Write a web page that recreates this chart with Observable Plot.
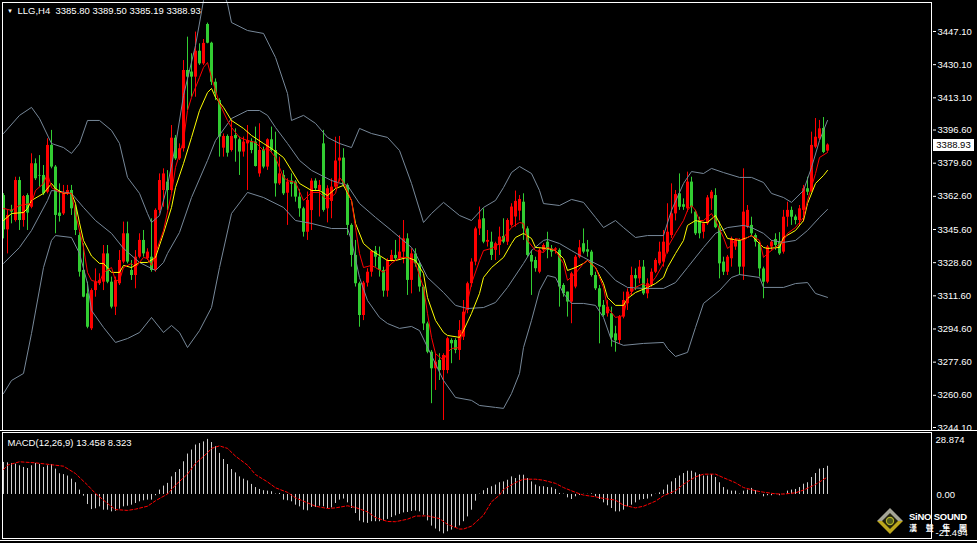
<!DOCTYPE html>
<html><head><meta charset="utf-8">
<script src="https://cdn.jsdelivr.net/npm/d3@7"></script>
<script src="https://cdn.jsdelivr.net/npm/@observablehq/plot@0.6"></script>
<style>
html,body{margin:0;padding:0;background:#000;}
#wrap{position:relative;width:977px;height:543px;background:#000;overflow:hidden;font-family:"Liberation Sans",Arial,sans-serif;}
#main,#macd{position:absolute;left:0;}
#main{top:0;z-index:2;} #macd{top:431px;z-index:1;}
#main svg,#macd svg{overflow:visible;}
.hline{position:absolute;left:0;width:977px;height:1px;background:#fff;z-index:1;}
#plabel{position:absolute;left:933px;width:41px;height:12px;background:#fff;color:#000;font-size:9.5px;line-height:12px;text-align:center;z-index:3;}
#logo{position:absolute;left:0;top:0;width:977px;height:543px;pointer-events:none;z-index:4;}
</style></head><body>
<div id="wrap"><div id="main"></div><div id="macd"></div>
<div class="hline" style="top:430px"></div>
<div class="hline" style="top:540px"></div>
<div id="plabel"></div>
<svg id="logo" width="977" height="543">
  <polygon points="877,521 890,508 903,521" fill="#a3a396"/>
  <polygon points="877,521 890,534 903,521" fill="#bda81c"/>
  <polygon points="882,521 890,513 898,521 890,529" fill="#23230c"/>
  <circle cx="890" cy="521" r="3.6" fill="#4d5a1c" stroke="#b4b428" stroke-width="1.2"/>
  <text x="909" y="520" fill="#fff" font-family="Liberation Sans, Arial, sans-serif" font-weight="bold" font-size="9.5" textLength="58">SiNO SOUND</text>
  <text x="909" y="530.5" fill="#fff" font-family="Noto Sans CJK TC, sans-serif" font-weight="bold" font-size="8" textLength="58">漢 聲 集 團</text>
</svg>
</div>
<script>
// ---------------- data ----------------
const symbol = "LLG,H4";
const yTicks = [3447.10,3430.10,3413.10,3396.60,3379.60,3362.60,3345.60,3328.60,3311.60,3294.60,3277.60,3260.60,3244.10];
const macdTicks = [28.874, 0, -21.494];

const open = [3363.0,3345.4,3355.5,3350.2,3370.7,3350.2,3363.0,3357.0,3379.3,3373.3,
3373.3,3364.7,3388.7,3377.6,3354.0,3353.6,3363.9,3365.6,3356.2,3342.5,
3324.6,3312.6,3294.7,3314.3,3317.8,3318.6,3333.1,3318.6,3305.8,3317.8,
3328.9,3343.4,3324.6,3322.0,3331.4,3340.0,3330.6,3331.4,3324.6,3355.4,
3365.6,3369.9,3365.6,3392.4,3381.8,3387.0,3427.1,3426.3,3423.7,3437.0,
3430.5,3450.7,3441.1,3421.1,3411.7,3387.3,3393.3,3386.1,3393.8,3391.6,
3385.3,3389.5,3390.7,3390.4,3374.1,3386.1,3377.6,3391.6,3386.1,3369.0,
3373.3,3364.2,3370.4,3369.9,3362.2,3356.2,3344.2,3355.3,3370.4,3365.6,
3389.5,3356.2,3360.0,3367.3,3380.7,3382.2,3368.2,3347.7,3332.3,3317.8,
3301.5,3318.1,3323.7,3334.5,3331.4,3324.6,3314.0,3329.7,3332.3,3330.6,
3334.0,3340.8,3319.5,3333.1,3328.0,3316.1,3297.2,3282.7,3274.2,3278.5,
3273.3,3273.3,3288.7,3288.7,3283.6,3290.4,3304.1,3317.8,3328.9,3345.9,
3351.1,3339.1,3339.1,3334.9,3337.4,3342.0,3339.1,3347.7,3352.0,3355.0,
3359.6,3345.9,3332.3,3329.7,3323.7,3334.9,3339.1,3335.7,3335.0,3334.9,
3316.9,3313.5,3308.4,3316.1,3331.4,3338.3,3335.2,3334.0,3322.0,3315.2,
3306.7,3302.4,3302.4,3292.1,3288.7,3300.7,3307.5,3313.5,3322.0,3320.3,
3326.3,3312.6,3317.0,3323.7,3328.0,3328.9,3334.0,3342.5,3353.6,3363.9,
3358.3,3356.2,3369.9,3354.5,3350.2,3344.2,3348.5,3361.3,3363.0,3346.5,
3328.9,3323.7,3330.6,3336.6,3340.0,3326.3,3346.8,3347.7,3342.5,3338.3,
3325.4,3318.6,3336.6,3340.5,3339.1,3334.0,3351.9,3355.4,3352.0,3350.2,
3355.4,3366.5,3365.6,3387.8,3392.1,3397.4,3385.80];

const high = [3364.0,3355.3,3358.0,3372.4,3372.4,3363.0,3363.9,3384.4,3381.8,3383.5,
3378.4,3392.1,3396.4,3378.4,3369.0,3368.2,3368.2,3368.2,3357.9,3344.2,
3338.3,3318.6,3315.2,3325.4,3322.9,3337.4,3337.4,3321.2,3321.2,3334.8,
3349.4,3349.4,3329.7,3334.8,3343.4,3345.1,3335.7,3351.1,3356.2,3374.1,
3376.7,3375.8,3398.9,3393.8,3389.5,3432.2,3444.2,3435.7,3446.8,3440.8,
3443.0,3451.4,3441.6,3422.8,3412.6,3394.6,3394.1,3401.5,3397.2,3393.0,
3393.0,3398.9,3392.1,3398.1,3399.8,3387.8,3392.1,3398.1,3395.5,3382.7,
3375.8,3371.6,3374.1,3370.7,3366.0,3357.0,3364.8,3371.6,3371.6,3370.7,
3396.4,3368.0,3371.6,3392.9,3393.3,3387.0,3369.0,3348.5,3340.0,3318.6,
3319.0,3325.5,3334.9,3336.9,3336.6,3326.3,3330.6,3334.9,3340.0,3342.5,
3350.2,3343.4,3335.7,3335.7,3329.0,3317.0,3298.1,3283.6,3281.9,3281.9,
3281.9,3290.4,3289.6,3289.6,3298.9,3309.2,3318.6,3330.6,3346.8,3357.1,
3356.2,3345.1,3344.2,3339.1,3346.8,3351.1,3351.1,3358.8,3365.3,3363.0,
3363.9,3347.0,3334.9,3331.4,3335.7,3338.3,3344.2,3337.4,3336.3,3335.7,
3317.8,3313.5,3323.7,3332.3,3340.0,3345.9,3340.0,3334.9,3323.7,3316.9,
3309.2,3309.2,3305.8,3296.0,3301.5,3313.5,3315.2,3326.3,3325.4,3329.7,
3329.7,3320.3,3325.4,3330.6,3339.1,3345.1,3358.8,3369.0,3365.6,3374.1,
3361.3,3375.0,3372.4,3355.4,3351.9,3349.4,3363.0,3365.6,3366.5,3349.4,
3331.4,3332.3,3341.7,3340.8,3340.8,3376.7,3357.9,3351.9,3343.4,3339.1,
3326.3,3337.4,3340.0,3343.4,3344.0,3355.4,3359.6,3357.1,3353.0,3357.9,
3368.2,3372.4,3395.5,3402.5,3401.5,3403.0,3389.50];

const low = [3340.8,3333.1,3348.5,3349.4,3345.1,3346.8,3345.1,3356.2,3370.7,3367.3,
3363.0,3363.9,3376.7,3343.4,3349.4,3352.8,3363.0,3352.8,3342.5,3321.2,
3310.6,3294.7,3293.8,3310.9,3316.9,3314.3,3317.8,3304.9,3301.5,3316.9,
3328.0,3328.0,3319.5,3315.2,3330.6,3331.4,3329.7,3323.7,3323.7,3353.6,
3357.0,3355.3,3364.8,3381.0,3381.0,3385.3,3406.6,3413.4,3413.4,3429.7,
3429.7,3440.8,3419.4,3411.7,3382.7,3382.7,3382.7,3385.3,3380.1,3373.3,
3382.7,3365.6,3384.4,3377.6,3372.4,3376.7,3375.9,3385.3,3362.2,3368.2,
3363.0,3347.7,3362.2,3359.6,3351.9,3341.7,3340.0,3345.1,3365.6,3352.0,
3354.5,3349.0,3351.1,3366.5,3369.9,3367.3,3342.5,3326.3,3316.1,3295.5,
3298.9,3316.1,3321.2,3326.3,3321.2,3310.9,3310.9,3328.9,3329.7,3329.7,
3328.0,3311.8,3312.6,3326.3,3313.5,3293.8,3281.9,3256.3,3263.1,3268.2,
3247.7,3271.6,3276.8,3281.9,3278.5,3288.7,3302.4,3316.0,3327.0,3342.5,
3338.3,3336.6,3329.7,3329.7,3332.3,3338.3,3337.4,3346.8,3346.8,3350.0,
3340.0,3331.4,3311.8,3323.7,3322.9,3334.0,3330.6,3331.4,3333.0,3305.8,
3310.9,3300.7,3297.3,3315.2,3330.6,3333.1,3331.4,3321.2,3314.3,3287.0,
3300.7,3300.7,3285.3,3282.7,3287.0,3299.8,3304.1,3311.8,3314.3,3317.8,
3311.8,3310.1,3316.0,3323.0,3327.0,3326.3,3333.0,3341.0,3350.0,3355.4,
3355.4,3354.5,3353.6,3342.5,3340.8,3340.8,3347.7,3355.4,3346.0,3320.3,
3322.0,3322.0,3326.3,3334.9,3322.0,3319.5,3346.0,3341.7,3336.6,3321.2,
3310.1,3317.8,3334.9,3334.9,3332.3,3333.0,3346.8,3347.7,3348.0,3347.7,
3349.4,3363.0,3364.7,3387.0,3391.2,3384.5,3385.19];

const close = [3345.4,3352.8,3354.5,3370.7,3350.2,3362.5,3354.0,3379.3,3371.6,3373.0,
3363.9,3388.7,3377.6,3352.8,3352.3,3363.9,3365.6,3356.2,3345.1,3323.7,
3310.9,3295.5,3314.3,3318.6,3319.5,3333.1,3318.6,3305.8,3319.5,3329.7,
3343.4,3328.9,3322.0,3331.4,3340.0,3333.1,3334.0,3324.6,3355.4,3370.7,
3374.1,3365.6,3392.4,3381.8,3387.0,3427.1,3423.7,3423.7,3437.0,3430.5,
3441.0,3441.1,3421.1,3415.2,3393.0,3393.3,3384.7,3393.3,3392.1,3385.3,
3390.4,3391.2,3386.1,3377.9,3386.1,3377.6,3391.6,3386.1,3369.0,3374.1,
3363.9,3369.9,3368.7,3362.2,3356.2,3344.2,3360.5,3370.4,3366.5,3368.2,
3355.4,3366.5,3367.3,3380.7,3382.2,3368.2,3347.7,3332.3,3317.8,3301.5,
3318.1,3323.7,3334.5,3331.4,3324.6,3314.0,3329.7,3332.3,3330.6,3334.0,
3340.8,3319.5,3333.1,3328.0,3316.1,3297.2,3282.7,3274.2,3277.6,3273.3,
3281.0,3289.6,3287.0,3283.6,3293.8,3303.2,3317.8,3328.9,3345.9,3350.5,
3339.1,3340.0,3332.3,3338.3,3341.7,3339.1,3350.2,3357.1,3360.0,3361.0,
3345.9,3332.3,3328.9,3325.5,3334.9,3337.4,3334.9,3334.0,3335.7,3316.1,
3312.6,3308.4,3322.9,3331.4,3336.2,3334.0,3334.0,3322.0,3315.2,3305.8,
3301.5,3305.8,3290.0,3288.5,3300.7,3309.2,3313.5,3322.0,3320.3,3326.3,
3312.6,3317.8,3323.7,3329.7,3334.0,3339.1,3344.2,3353.6,3363.5,3357.0,
3357.0,3369.9,3357.0,3343.4,3343.4,3348.5,3361.8,3364.7,3346.5,3328.0,
3323.7,3331.4,3340.8,3340.0,3326.3,3354.5,3355.4,3343.4,3339.1,3325.4,
3318.6,3336.6,3339.1,3337.4,3333.1,3351.9,3355.4,3351.9,3350.2,3356.2,
3366.5,3364.7,3388.7,3392.9,3397.2,3385.1,3388.93];

// Bollinger upper / middle / lower (sampled by bar index)
const upIdx = [0,4,7,9,12,15,17,19,21,24,27,29,31,34,36,37,39,41,43,45,48,50,52,54,56,57,61,65,68,71,72,75,78,81,84,87,89,92,96,99,102,105,107,110,114,117,120,123,125,127,129,132,134,135,139,142,145,148,150,153,155,158,161,165,167,170,172,175,177,180,184,187,190,192,195,197,200,202,204,206];
const upVal = [3394.8,3404.1,3408.2,3402.5,3389.7,3387.6,3384.6,3389.7,3401.5,3401.5,3396.4,3389.7,3372.3,3364.1,3353.8,3349.2,3352.8,3368.2,3388.7,3414.3,3439.9,3463.0,3472,3472,3461.5,3451.7,3447.6,3446.1,3433.8,3415.3,3401.5,3404.1,3400.0,3392.8,3389.7,3387.6,3397.4,3394.8,3392.8,3386.1,3369.2,3349.2,3353.8,3359.5,3352.8,3350.2,3356.9,3360.5,3367.1,3374.8,3377.9,3374.3,3365.6,3358.9,3357.9,3361.0,3359.5,3351.8,3346.6,3350.2,3346.6,3341.5,3342.5,3342.5,3355.4,3369.2,3375.3,3374.3,3376.9,3374.8,3372.3,3372.3,3369.7,3364.1,3362.0,3359.5,3365.6,3377.4,3391.2,3401.5];
const midIdx = [0,4,7,11,12,14,17,20,23,27,30,34,38,40,41,44,47,51,53,57,61,64,66,68,71,74,77,82,86,89,93,97,102,103,106,110,113,116,120,123,126,130,132,135,136,139,142,145,150,153,156,160,165,168,171,175,178,181,185,187,190,192,195,198,201,204,206];
const midVal = [3328.2,3336.4,3345.1,3360.5,3365.6,3365.1,3364.1,3356.9,3350.2,3343.6,3335.9,3328.7,3324.6,3328.7,3333.3,3344.1,3362.0,3381.0,3391.2,3402.5,3406.6,3406.6,3404.1,3397.9,3389.7,3381.0,3375.9,3370.7,3368.2,3358.9,3351.8,3345.1,3336.4,3333.3,3321.0,3313.3,3306.7,3305.1,3305.6,3308.2,3315.9,3328.2,3334.8,3340.0,3340.5,3338.4,3334.8,3331.3,3326.1,3319.5,3315.9,3315.4,3315.4,3318.4,3326.1,3336.4,3343.6,3346.6,3347.7,3346.6,3343.6,3340.0,3339.0,3340.0,3345.1,3351.8,3355.9];
const lowIdx = [0,2,5,7,10,12,13,17,19,21,22,25,28,31,34,37,40,42,44,46,49,52,54,57,61,65,70,73,77,82,86,87,89,91,94,96,99,102,104,107,110,113,117,119,123,125,127,129,130,132,134,136,138,140,142,145,148,150,152,155,160,165,166,168,171,173,175,179,182,184,189,190,195,198,201,203,206];
const lowVal = [3261.5,3268.2,3271.8,3292.3,3326.1,3340.0,3342.5,3341.5,3333.3,3317.9,3304.1,3295.4,3287.7,3289.7,3292.8,3300.5,3292.8,3296.4,3292.8,3285.1,3293.8,3305.6,3326.1,3353.8,3364.6,3362.0,3356.9,3350.2,3348.7,3346.1,3346.1,3340.0,3321.0,3309.2,3300.5,3297.4,3294.9,3295.9,3293.8,3281.0,3268.2,3259.5,3258.0,3255.4,3254.4,3253.9,3261.5,3271.8,3285.1,3299.0,3314.3,3322.0,3321.0,3312.8,3307.7,3307.7,3306.7,3300.5,3288.7,3286.2,3287.2,3287.7,3284.6,3280.5,3282.6,3295.4,3307.7,3314.3,3321.0,3322.5,3321.0,3315.9,3315.9,3317.9,3318.4,3312.8,3310.8];

// Slow MA (yellow) and fast MA (red)
const slowIdx = [0,2,5,6,7,10,12,13,15,17,18,19,20,22,24,25,27,29,30,32,34,36,38,40,42,43,45,47,49,51,52,53,55,57,60,62,65,67,70,72,74,77,79,81,83,85,87,88,90,92,94,96,98,101,103,105,106,108,110,111,114,115,117,119,120,122,125,127,128,130,132,133,136,138,140,141,143,145,146,148,150,151,153,155,156,158,161,163,165,166,168,170,171,173,175,176,178,180,181,184,186,187,190,191,194,195,198,200,201,203,205,206];
const slowVal = [3350.2,3353.8,3354.3,3356.4,3360.5,3364.1,3369.2,3366.6,3364.1,3364.1,3359.0,3349.0,3340.0,3332.0,3328.2,3328.2,3323.6,3323.6,3327.2,3326.1,3328.7,3328.7,3331.3,3343.6,3356.9,3367.1,3379.4,3392.8,3406.6,3415.8,3417.9,3413.3,3408.2,3401.5,3397.4,3393.8,3389.7,3387.1,3382.5,3375.9,3369.2,3365.6,3365.6,3363.0,3366.6,3368.2,3360.5,3348.7,3338.4,3334.8,3332.3,3329.7,3329.7,3331.3,3329.7,3323.1,3310.7,3299.0,3292.8,3291.3,3290.3,3293.8,3302.6,3312.8,3321.0,3326.1,3331.3,3338.4,3341.5,3343.6,3341.0,3336.4,3335.9,3334.8,3330.7,3324.6,3326.1,3328.2,3329.7,3326.1,3317.9,3310.7,3306.7,3306.7,3310.2,3313.3,3315.9,3317.9,3321.0,3326.1,3333.3,3340.0,3347.7,3350.2,3349.2,3349.2,3352.8,3345.1,3341.0,3340.0,3341.5,3342.5,3336.4,3335.9,3336.4,3341.5,3345.1,3350.2,3358.9,3369.2,3373.3,3375.9];
const fastIdx = [0,2,4,7,8,10,11,12,14,16,17,18,20,21,22,24,25,27,28,29,30,32,33,35,36,37,38,40,42,43,45,46,47,49,50,51,52,54,56,57,59,61,63,65,66,68,70,71,73,75,77,79,81,83,84,85,87,88,89,90,92,93,95,97,99,101,103,105,106,107,108,110,111,112,114,115,117,119,120,122,124,125,127,129,130,131,133,135,136,138,140,141,143,145,146,148,150,151,153,155,156,158,160,161,163,165,166,168,170,171,172,173,174,175,177,178,180,181,182,183,185,186,187,189,190,191,193,195,196,198,200,201,203,204,206];
const fastVal = [3356.4,3355.4,3357.9,3359.0,3365.6,3369.2,3374.3,3367.1,3364.6,3364.1,3364.1,3353.8,3336.4,3323.6,3319.5,3318.4,3323.6,3326.1,3319.5,3319.5,3326.1,3328.2,3326.1,3331.3,3330.7,3327.2,3333.3,3345.1,3364.1,3377.4,3391.2,3406.6,3413.3,3423.5,3428.7,3431.2,3423.5,3410.2,3401.5,3397.9,3392.8,3391.2,3390.2,3386.1,3387.6,3382.5,3372.3,3370.7,3369.7,3360.5,3364.6,3364.6,3360.5,3364.1,3372.3,3369.7,3360.5,3346.6,3333.3,3326.1,3327.2,3326.1,3323.6,3328.2,3331.3,3331.3,3328.2,3315.9,3302.6,3290.3,3282.0,3278.5,3282.6,3284.6,3285.1,3299.0,3317.9,3329.7,3334.8,3335.9,3338.4,3341.5,3346.6,3349.2,3348.7,3340.0,3334.8,3333.8,3336.4,3334.8,3328.2,3319.5,3323.1,3328.2,3329.7,3326.1,3315.9,3305.6,3300.5,3301.5,3310.7,3315.9,3317.9,3315.9,3321.0,3328.2,3336.4,3343.6,3350.2,3355.4,3357.9,3355.4,3350.2,3350.2,3353.8,3350.2,3341.5,3335.9,3337.4,3341.0,3340.0,3341.5,3342.5,3340.0,3331.3,3333.3,3336.4,3340.0,3343.6,3346.6,3351.8,3360.5,3374.3,3382.5,3385.1];

// MACD(12,26,9): main histogram per bar, signal sampled
const macd = [15.3,15.1,14.8,14.5,13.7,12.9,12.4,13.7,14.8,14.3,
12.9,13.7,14.3,12.1,9.9,9.5,8.8,7.3,5.6,2.1,
-0.8,-4.8,-7.2,-6.8,-5.9,-7.5,-7.5,-8.3,-8.0,-7.0,
-5.9,-5.6,-5.1,-4.3,-3.5,-3.0,-2.7,-2.7,-0.6,2.1,
4.0,5.3,8.4,10.5,11.9,15.6,19.3,21.2,23.6,24.3,
25.1,26.3,24.8,22.8,19.6,16.7,14.3,11.9,10.3,8.4,
7.3,6.5,4.8,3.3,2.4,1.8,1.6,1.3,0.2,0.5,
-2.7,-3.0,-3.5,-5.1,-5.9,-7.5,-7.8,-6.2,-6.2,-5.6,
-5.9,-6.7,-6.4,-4.3,-2.7,-2.2,-4.0,-6.7,-9.1,-12.7,
-13.5,-13.8,-13.0,-13.0,-13.0,-12.6,-11.9,-11.0,-10.2,-9.5,
-8.8,-8.6,-8.1,-7.9,-8.3,-9.9,-12.6,-15.1,-16.5,-17.8,
-18.8,-17.8,-17.0,-16.2,-15.0,-13.0,-10.7,-7.5,-3.2,0.2,
1.8,2.9,3.7,4.5,5.6,6.0,6.8,8.4,7.6,9.2,
9.2,7.6,6.0,4.5,3.7,3.7,3.3,3.2,2.4,0.5,
0.2,-1.6,-2.4,-1.1,-0.5,0.1,0.1,0.3,-1.1,-2.4,
-4.0,-5.4,-6.7,-8.3,-8.3,-7.5,-5.9,-5.1,-4.0,-2.7,
-2.4,-2.2,-1.1,0.1,0.8,2.1,4.5,6.0,7.6,8.8,
10.0,11.1,11.1,10.3,9.5,8.8,8.8,9.5,8.1,5.6,
3.3,2.1,1.6,1.6,0.2,1.6,2.1,2.9,1.8,0.1,
-1.1,-0.6,-0.6,0.1,-0.6,0.1,1.6,2.1,2.4,3.3,
4.9,5.6,8.1,10.0,12.1,12.4,13.458];
const sigIdx = [0,1,4,8,12,15,18,21,23,26,28,31,33,36,38,41,43,46,48,51,52,54,56,58,61,63,66,68,71,73,76,78,81,83,86,88,91,93,96,98,101,103,106,109,111,114,115,117,120,122,124,125,128,130,133,135,138,140,143,145,148,150,153,155,158,160,163,165,168,170,173,175,178,180,183,185,188,190,193,195,198,200,203,206];
const sigVal = [11.9,14.0,15.6,15.1,14.2,13.5,10.0,4.5,0.5,-4.3,-7.2,-7.6,-7.0,-5.6,-3.0,0.2,4.5,9.7,14.8,19.9,22.0,23.2,22.0,18.3,14.0,9.5,6.0,3.2,1.0,-1.6,-4.0,-5.6,-6.7,-6.4,-5.4,-6.2,-8.3,-11.0,-12.9,-13.0,-11.8,-10.3,-10.2,-11.5,-14.3,-16.5,-16.5,-15.1,-9.9,-3.5,-0.3,2.4,5.7,7.3,7.3,6.8,5.3,3.3,1.0,-0.3,-1.1,-1.9,-2.7,-5.1,-6.4,-5.6,-3.2,-0.6,1.8,4.9,8.4,9.7,9.7,8.0,5.6,3.3,1.8,1.1,0.3,0.2,0.8,2.1,4.8,8.323];

// ---------------- drawing ----------------
const UP = "#ff0000", DOWN = "#32cd32", BAND = "#778899", SLOW = "#ffff00", FAST = "#ff0000";
const FONT = "Liberation Sans, Arial, sans-serif";
const bars = d3.range(open.length);
const last = bars.length - 1;
const xOpts = {domain: [0, last], range: [3, 3 + 4 * last], axis: null};
const candleColor = i => close[i] >= open[i] ? UP : DOWN;
const pts = (I, V) => I.map((d, k) => ({i: d, v: V[k]}));

const titleText = `${symbol}  ${[open[last], high[last], low[last], close[last]].map(v => v.toFixed(2)).join(" ")}`;

const main = Plot.plot({
  width: 977, height: 431,
  marginTop: 0, marginRight: 45, marginBottom: 0, marginLeft: 0,
  style: {background: "transparent", color: "#fff", fontFamily: FONT, fontSize: "9.5px", overflow: "visible"},
  x: xOpts,
  y: {domain: [3244.1, 3447.1], range: [427, 31], axis: null, label: null},
  color: {type: "identity"},
  marks: [
    Plot.ruleX(bars, {x: i => i, y1: i => low[i], y2: i => high[i], stroke: candleColor, strokeWidth: 1}),
    Plot.ruleX(bars, {x: i => i, y1: i => open[i], y2: i => close[i], stroke: candleColor, strokeWidth: 3}),
    Plot.line(pts(upIdx, upVal), {x: "i", y: "v", stroke: BAND, strokeWidth: 1, clip: "frame"}),
    Plot.line(pts(midIdx, midVal), {x: "i", y: "v", stroke: BAND, strokeWidth: 1}),
    Plot.line(pts(lowIdx, lowVal), {x: "i", y: "v", stroke: BAND, strokeWidth: 1}),
    Plot.line(pts(slowIdx, slowVal), {x: "i", y: "v", stroke: SLOW, strokeWidth: 1}),
    Plot.line(pts(fastIdx, fastVal), {x: "i", y: "v", stroke: FAST, strokeWidth: 1}),
    Plot.frame({stroke: "#fff", insetLeft: 2, insetTop: 2, insetRight: 1, insetBottom: 1}),
    Plot.axisY({anchor: "right", ticks: yTicks, tickSize: 3, tickPadding: 2, tickFormat: d => d.toFixed(2), color: "#fff", label: null}),
    Plot.text(["\u25BC"], {text: d => d, frameAnchor: "top-left", dx: 9.5, dy: 10.5, fontSize: 6, fill: "#fff", textAnchor: "middle", lineAnchor: "middle"}),
    Plot.text([titleText], {text: d => d, frameAnchor: "top-left", dx: 17, dy: 10, fill: "#fff", textAnchor: "start", lineAnchor: "middle"})
  ]
});
document.getElementById("main").appendChild(main);

const macdLabel = `MACD(12,26,9) ${macd[last].toFixed(3)} ${sigVal[sigVal.length - 1].toFixed(3)}`;
const macdPlot = Plot.plot({
  width: 977, height: 112,
  marginTop: 0, marginRight: 45, marginBottom: 0, marginLeft: 0,
  style: {background: "#000", color: "#fff", fontFamily: FONT, fontSize: "9.5px"},
  x: xOpts,
  y: {domain: [macdTicks[2], macdTicks[0]], range: [108, 2.5], axis: null, label: null},
  marks: [
    Plot.ruleX(bars, {x: i => i, y1: 0, y2: i => macd[i], stroke: "#d0d0d0", strokeWidth: 1}),
    Plot.line(pts(sigIdx, sigVal), {x: "i", y: "v", stroke: "#ff0000", strokeWidth: 1, strokeDasharray: "3,2"}),
    Plot.frame({stroke: "#fff", insetLeft: 2, insetTop: 1, insetRight: 1, insetBottom: 5}),
    Plot.text([macdTicks[0]], {y: d => d, text: d => d.toFixed(3), frameAnchor: "right", dx: 3, dy: 6, textAnchor: "start", fill: "#fff"}),
    Plot.text([macdTicks[1]], {y: d => d, text: d => d.toFixed(2), frameAnchor: "right", dx: 4, dy: 0, textAnchor: "start", fill: "#fff"}),
    Plot.text([macdTicks[2]], {y: d => d, text: d => d.toFixed(3), frameAnchor: "right", dx: 3, dy: -7, textAnchor: "start", fill: "#fff"}),
    Plot.text([macdLabel], {text: d => d, frameAnchor: "top-left", dx: 7, dy: 11, fill: "#fff", textAnchor: "start", lineAnchor: "middle"})
  ]
});
document.getElementById("macd").appendChild(macdPlot);

// current price label on the price scale
const py = main.scale("y").apply(close[last]);
const pl = document.getElementById("plabel");
pl.textContent = close[last].toFixed(2);
pl.style.top = (py - 5.5) + "px";
</script>
</body></html>
